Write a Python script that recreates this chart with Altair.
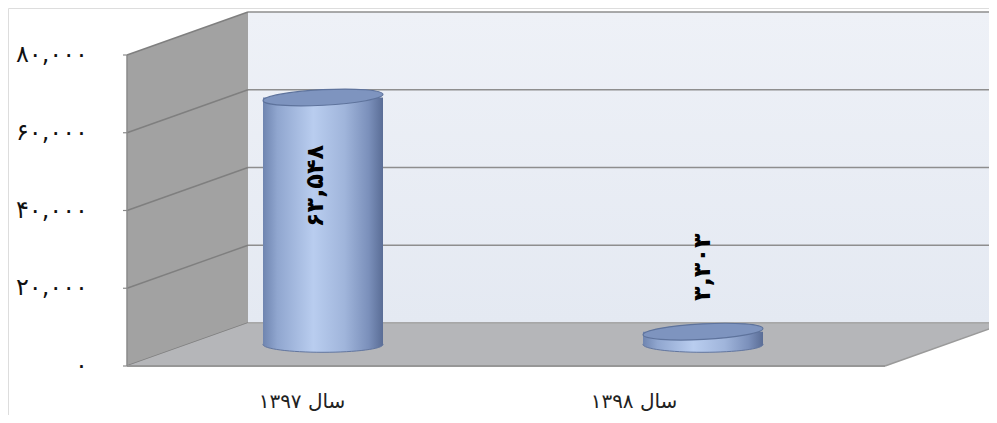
import altair as alt
import pandas as pd

# ---------------- data ----------------
years = ["سال ۱۳۹۷", "سال ۱۳۹۸"]
values = [63548, 3303]
value_labels = ["۶۳,۵۴۸", "۳,۳۰۳"]
ticks = [0, 20000, 40000, 60000, 80000]
tick_labels = ["۰", "۲۰,۰۰۰", "۴۰,۰۰۰", "۶۰,۰۰۰", "۸۰,۰۰۰"]

# ---------------- layout ----------------
W, H = 981, 407
Y0_PX, YTOP_PX = 358, 47          # pixel rows of 0 and 80,000 on front plane
VMAX = 80000
k = (Y0_PX - YTOP_PX) / VMAX       # px per unit
ymin = -(H - Y0_PX) / k
ymax = VMAX + YTOP_PX / k
DX, DY = 121, 43                   # depth offset (px)
D = DY / k                         # depth offset in value units
FX = 119                           # front-left x
BX = FX + DX                       # back-left x
FRX = 877                          # front-right x of floor
CX0, STEP, HALF = 315, 380, 60     # cylinder centres / half width
LBL_X0, LBL_STEP = 294, 332        # category label centres

xs = alt.Scale(domain=[0, W], range=[0, W], nice=False, zero=False)
ys = alt.Scale(domain=[ymin, ymax], nice=False, zero=False)

def X(f="x"):
    return alt.X(f"{f}:Q", scale=xs, axis=None)

def Y(f="y"):
    return alt.Y(f"{f}:Q", scale=ys, axis=None)

# back wall
back = pd.DataFrame({"x": [BX], "x2": [W], "y": [D], "y2": [VMAX + D]})
back_wall = alt.Chart(back).mark_rect(
    color=alt.Gradient(gradient="linear", x1=0, x2=0, y1=0, y2=1,
                       stops=[alt.GradientStop(color="#eef1f7", offset=0),
                              alt.GradientStop(color="#e4e9f2", offset=1)])
).encode(x=X(), x2="x2:Q", y=Y(), y2="y2:Q")

grid = pd.DataFrame({"v": ticks})
grid["x"] = BX
grid["x2"] = W
grid["yb"] = grid["v"] + D
back_grid = alt.Chart(grid).mark_rule(color="#8e8e8e", strokeWidth=1.6).encode(
    x=X(), x2="x2:Q", y=Y("yb"))

# side wall
side = pd.DataFrame({"x": [FX, BX], "y": [0, D], "y2": [VMAX, VMAX + D]})
side_wall = alt.Chart(side).mark_area(color="#a2a2a2", opacity=1).encode(
    x=X(), y=Y(), y2="y2:Q")

sl = pd.DataFrame({"v": ticks})
sl["x"] = FX
sl["x2"] = BX
sl["y2"] = sl["v"] + D
side_lines = alt.Chart(sl).mark_rule(color="#7f7f7f", strokeWidth=1.4).encode(
    x=X(), x2="x2:Q", y=Y("v"), y2="y2:Q")

# floor
floor = pd.DataFrame({"x": [FX, BX, FRX, FRX + DX],
                      "y": [0, 0, 0, D], "y2": [0, D, D, D]})
floor_area = alt.Chart(floor).mark_area(color="#b5b6b9", opacity=1).encode(
    x=X(), y=Y(), y2="y2:Q")
floor_edge = alt.Chart(pd.DataFrame({"x": [FX], "x2": [FRX], "y": [0]})).mark_rule(
    color="#979797", strokeWidth=2).encode(x=X(), x2="x2:Q", y=Y())
floor_back = alt.Chart(pd.DataFrame({"x": [BX], "x2": [W], "y": [D]})).mark_rule(
    color="#a9a9a9", strokeWidth=1.5).encode(x=X(), x2="x2:Q", y=Y())
floor_right = alt.Chart(pd.DataFrame({"x": [FRX], "x2": [FRX + DX], "y": [0], "y2": [D]})).mark_rule(
    color="#9a9a9a", strokeWidth=1.5).encode(x=X(), x2="x2:Q", y=Y(), y2="y2:Q")

# front axis line and ticks
axis_line = alt.Chart(pd.DataFrame({"x": [FX], "y": [0], "y2": [VMAX]})).mark_rule(
    color="#8a8a8a", strokeWidth=1.5).encode(x=X(), y=Y(), y2="y2:Q")
tk = pd.DataFrame({"v": ticks})
tk["x"] = FX - 4
tk["x2"] = FX
axis_ticks = alt.Chart(tk).mark_rule(color="#8a8a8a", strokeWidth=1.2).encode(
    x=X(), x2="x2:Q", y=Y("v"))

lab = pd.DataFrame({"v": ticks, "t": tick_labels})
lab["x"] = 80
y_labels = alt.Chart(lab).mark_text(
    align="right", baseline="middle", fontSize=24, font="DejaVu Sans", color="#111"
).encode(x=X(), y=Y("v"), text="t:N")

# cylinders
cyl = pd.DataFrame({"year": years, "value": values, "lbl": value_labels})
cyl["cx"] = [CX0 + i * STEP for i in range(len(years))]
cyl["x1"] = cyl["cx"] - HALF
cyl["x2"] = cyl["cx"] + HALF
cyl["base"] = D / 2
cyl["top"] = cyl["value"] + D / 2

body_grad = alt.Gradient(
    gradient="linear", x1=0, x2=1, y1=0, y2=0,
    stops=[alt.GradientStop(color="#6f85b0", offset=0),
           alt.GradientStop(color="#90a6cf", offset=0.12),
           alt.GradientStop(color="#b9cdef", offset=0.42),
           alt.GradientStop(color="#a0b5db", offset=0.68),
           alt.GradientStop(color="#7b90bb", offset=0.88),
           alt.GradientStop(color="#5a6d96", offset=1)])

kap = 0.5523
r = 0.13
ell = (f"M-1,0 C-1,{-kap*r:.4f} {-kap:.4f},{-r} 0,{-r} "
       f"C{kap:.4f},{-r} 1,{-kap*r:.4f} 1,0 "
       f"C1,{kap*r:.4f} {kap:.4f},{r} 0,{r} "
       f"C{-kap:.4f},{r} -1,{kap*r:.4f} -1,0 Z")
size = (2 * HALF) ** 2

bottom_ell = alt.Chart(cyl).mark_point(
    shape=ell, size=size, filled=True, fill=body_grad, stroke="#62769f",
    strokeWidth=1, opacity=1).encode(x=X("cx"), y=Y("base"))
body = alt.Chart(cyl).mark_bar(color=body_grad).encode(
    x=X("x1"), x2="x2:Q", y=Y("base"), y2="top:Q")
top_ell = alt.Chart(cyl).mark_point(
    shape=ell, size=size, filled=True, fill="#7e94bf", stroke="#5e739c",
    strokeWidth=1.2, opacity=1, angle=357).encode(x=X("cx"), y=Y("top"))

lbl1 = alt.Chart(cyl.iloc[[0]]).mark_text(
    angle=270, align="center", baseline="middle", fontSize=24, fontWeight="bold",
    font="DejaVu Sans", color="#000", yOffset=67, xOffset=-7
).encode(x=X("cx"), y=Y("value"), text="lbl:N")
lbl2 = alt.Chart(cyl.iloc[[1]]).mark_text(
    angle=270, align="center", baseline="middle", fontSize=24, fontWeight="bold",
    font="DejaVu Sans", color="#000", yOffset=-86
).encode(x=X("cx"), y=Y("value"), text="lbl:N")

cat = pd.DataFrame({"year": years})
cat["x"] = [LBL_X0 + i * LBL_STEP for i in range(len(years))]
cat["y"] = 0
cat_labels = alt.Chart(cat).mark_text(
    align="center", baseline="middle", fontSize=20, font="DejaVu Sans",
    color="#222", yOffset=36
).encode(x=X(), y=Y(), text="year:N")

chart = alt.layer(
    back_wall, back_grid, side_wall, side_lines, floor_area, floor_back,
    floor_right, floor_edge, axis_line, axis_ticks, y_labels,
    bottom_ell, body, top_ell, lbl1, lbl2, cat_labels
).properties(
    width=W, height=H, padding=0,
    autosize=alt.AutoSizeParams(type="none")
).configure_view(stroke=None).configure(background="white")

chart.save("out.html", embed_options={"renderer": "svg", "actions": False})
